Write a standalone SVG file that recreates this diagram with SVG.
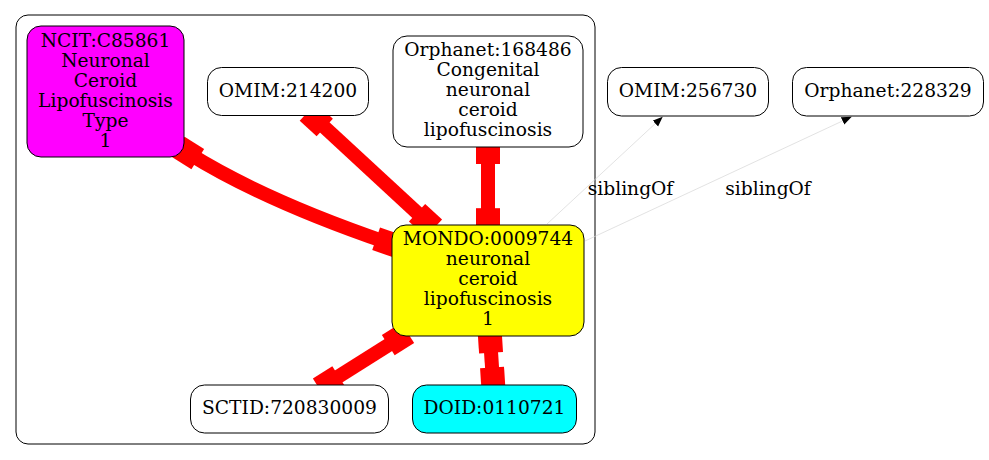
<svg xmlns="http://www.w3.org/2000/svg" width="989" height="460" viewBox="0 0 989 460">
<defs>
<style>
.n{stroke:#000;stroke-width:1}
.t{font-family:"DejaVu Serif",serif;font-size:18.67px;text-anchor:middle;fill:#000}
.rl{fill:none;stroke:#f00;stroke-width:14}
.rb{fill:#f00}
.sl{fill:none;stroke:#d6d6d6;stroke-width:0.7}
</style>
<marker id="ah" markerUnits="userSpaceOnUse" markerWidth="12" markerHeight="10" refX="10" refY="4" orient="auto">
<path d="M0,0 L10,4 L0,8 Z" fill="#000"/>
</marker>
</defs>
<rect width="989" height="460" fill="#fff"/>
<g id="cluster">
<rect x="16" y="15" width="579" height="429" rx="12" fill="none" stroke="#000" stroke-width="1"/>
</g>
<g id="connectors">
<g id="e-ncit">
<path class="rl" d="M188,153 Q263,200 387,242.5"/>
<rect class="rb" x="-11.5" y="-12" width="23" height="24" transform="translate(188,153) rotate(32)"/>
<rect class="rb" x="-11.5" y="-12" width="23" height="24" transform="translate(387,242.5) rotate(19)"/>
</g>
<g id="e-omim214200">
<path class="rl" d="M316.3,119.7 L425.5,220.5"/>
<rect class="rb" x="-11.5" y="-12" width="23" height="24" transform="translate(316.3,119.7) rotate(42.7)"/>
<rect class="rb" x="-11.5" y="-12" width="23" height="24" transform="translate(425.5,220.5) rotate(42.7)"/>
</g>
<g id="e-orpha168486">
<path class="rl" d="M488,152.5 L488,219.7"/>
<rect class="rb" x="-11.5" y="-12" width="23" height="24" transform="translate(488,152.5) rotate(90)"/>
<rect class="rb" x="-11.5" y="-12" width="23" height="24" transform="translate(488,219.7) rotate(90)"/>
</g>
<g id="e-sctid">
<path class="rl" d="M398,339 L329,382.5"/>
<rect class="rb" x="-11.5" y="-12" width="23" height="24" transform="translate(398,339) rotate(-32.2)"/>
<rect class="rb" x="-11.5" y="-12" width="23" height="24" transform="translate(329,382.5) rotate(-32.2)"/>
</g>
<g id="e-doid">
<path class="rl" d="M490.3,341.2 L492.8,379"/>
<rect class="rb" x="-11.5" y="-12" width="23" height="24" transform="translate(490.3,341.2) rotate(86.2)"/>
<rect class="rb" x="-11.5" y="-12" width="23" height="24" transform="translate(492.8,379) rotate(86.2)"/>
</g>
<g id="e-sib1">
<path class="sl" d="M547,224 L662.7,116.7" marker-end="url(#ah)"/>
<text class="t" x="630.5" y="195">siblingOf</text>
</g>
<g id="e-sib2">
<path class="sl" d="M585,241 L851.7,116.7" marker-end="url(#ah)"/>
<text class="t" x="768" y="195">siblingOf</text>
</g>
</g>
<g id="n-ncit">
<rect class="n" x="27" y="26" width="157" height="131" rx="14" fill="#ff00ff"/>
<text class="t" x="105.5" y="46.7">NCIT:C85861</text>
<text class="t" x="105.5" y="66.7">Neuronal</text>
<text class="t" x="105.5" y="86.7">Ceroid</text>
<text class="t" x="105.5" y="106.7">Lipofuscinosis</text>
<text class="t" x="105.5" y="126.7">Type</text>
<text class="t" x="105.5" y="146.7">1</text>
</g>
<g id="n-omim214200">
<rect class="n" x="207.5" y="67.5" width="161" height="48" rx="14" fill="#fff"/>
<text class="t" x="288" y="96.5">OMIM:214200</text>
</g>
<g id="n-orpha168486">
<rect class="n" x="393" y="36" width="190" height="111" rx="14" fill="#fff"/>
<text class="t" x="488" y="56">Orphanet:168486</text>
<text class="t" x="488" y="76">Congenital</text>
<text class="t" x="488" y="96">neuronal</text>
<text class="t" x="488" y="116">ceroid</text>
<text class="t" x="488" y="136">lipofuscinosis</text>
</g>
<g id="n-mondo">
<rect class="n" x="392" y="225" width="192" height="111" rx="14" fill="#ffff00"/>
<text class="t" x="488" y="245.3">MONDO:0009744</text>
<text class="t" x="488" y="265.3">neuronal</text>
<text class="t" x="488" y="285.3">ceroid</text>
<text class="t" x="488" y="305.3">lipofuscinosis</text>
<text class="t" x="488" y="325.3">1</text>
</g>
<g id="n-sctid">
<rect class="n" x="190.5" y="385" width="198" height="48" rx="14" fill="#fff"/>
<text class="t" x="289.5" y="413.5">SCTID:720830009</text>
</g>
<g id="n-doid">
<rect class="n" x="412.5" y="385" width="164" height="48" rx="14" fill="#00ffff"/>
<text class="t" x="494.5" y="413.5">DOID:0110721</text>
</g>
<g id="n-omim256730">
<rect class="n" x="607.5" y="67.5" width="161" height="48.5" rx="14" fill="#fff"/>
<text class="t" x="688" y="96.7">OMIM:256730</text>
</g>
<g id="n-orpha228329">
<rect class="n" x="792.5" y="67.5" width="191" height="48.5" rx="14" fill="#fff"/>
<text class="t" x="888" y="96.7">Orphanet:228329</text>
</g>
</svg>
